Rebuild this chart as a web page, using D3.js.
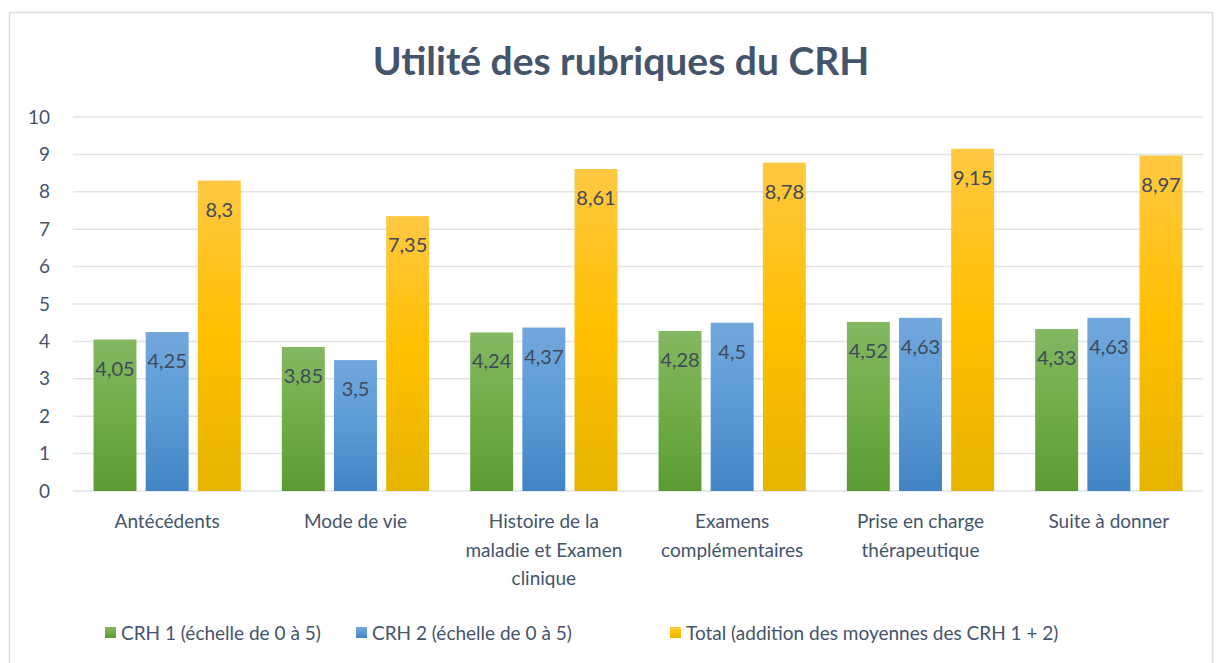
<!DOCTYPE html>
<html>
<head>
<meta charset="utf-8">
<script src="https://cdn.jsdelivr.net/npm/d3@7"></script>
<style>
  body { margin: 0; background: #fff; }
  text { font-family: Lato, "Open Sans", sans-serif; }
</style>
</head>
<body>
<div id="chart"></div>
<script>
const categories = ["Antécédents", "Mode de vie", "Histoire de la maladie et Examen clinique",
  "Examens complémentaires", "Prise en charge thérapeutique", "Suite à donner"]
const categoryLines = [["Antécédents"], ["Mode de vie"], ["Histoire de la", "maladie et Examen", "clinique"],
  ["Examens", "complémentaires"], ["Prise en charge", "thérapeutique"], ["Suite à donner"]]
const crh1 = [4.05, 3.85, 4.24, 4.28, 4.52, 4.33]
const crh2 = [4.25, 3.5, 4.37, 4.5, 4.63, 4.63]
const total = [8.3, 7.35, 8.61, 8.78, 9.15, 8.97]
const seriesNames = ["CRH 1 (échelle de 0 à 5)", "CRH 2 (échelle de 0 à 5)", "Total (addition des moyennes des CRH 1 + 2)"]
const yTicks = [0, 1, 2, 3, 4, 5, 6, 7, 8, 9, 10]

const W = 1220, H = 663
const plot = { left: 73, right: 1203, top: 117, bottom: 491 }
const textColor = "#44546a"

const series = [
  { name: seriesNames[0], values: crh1, grad: ["#84b762", "#70ad47", "#5c9a33"] },
  { name: seriesNames[1], values: crh2, grad: ["#72a7dd", "#5b9bd5", "#4283c4"] },
  { name: seriesNames[2], values: total, grad: ["#ffc842", "#ffc000", "#e6b400"] }
]

const svg = d3.select("#chart").append("svg")
  .attr("width", W).attr("height", H)

const defs = svg.append("defs")
series.forEach(function (s, i) {
  const g = defs.append("linearGradient")
    .attr("id", "grad" + i)
    .attr("x1", 0).attr("y1", 0).attr("x2", 0).attr("y2", 1)
  g.append("stop").attr("offset", "0%").attr("stop-color", s.grad[0])
  g.append("stop").attr("offset", "50%").attr("stop-color", s.grad[1])
  g.append("stop").attr("offset", "100%").attr("stop-color", s.grad[2])
})

// outer border
svg.append("rect")
  .attr("x", 9.5).attr("y", 12.5)
  .attr("width", 1203).attr("height", 660)
  .attr("fill", "#fff").attr("stroke", "#d9dde3").attr("stroke-width", 1.5)

// title
svg.append("text")
  .attr("x", 621).attr("y", 75)
  .attr("text-anchor", "middle")
  .style("font-size", "39px").style("font-weight", "bold")
  .style("fill", textColor)
  .text("Utilité des rubriques du CRH")

const y = d3.scaleLinear().domain([0, 10]).range([plot.bottom, plot.top])
const x = d3.scaleBand().domain(categories).range([plot.left, plot.right])
const bw = x.bandwidth() * 0.228
const step = x.bandwidth() * 0.277
const xs = d3.scaleBand().domain([0, 1, 2])
  .range([x.bandwidth() / 2 - step * 1.5, x.bandwidth() / 2 + step * 1.5])

// gridlines
svg.append("g").selectAll("line")
  .data(yTicks)
  .join("line")
  .attr("x1", plot.left).attr("x2", plot.right)
  .attr("y1", d => y(d)).attr("y2", d => y(d))
  .attr("stroke", "#dfe3e8").attr("stroke-width", 1.5)

// y tick labels
svg.append("g").selectAll("text")
  .data(yTicks)
  .join("text")
  .attr("x", 50).attr("y", d => y(d))
  .attr("dy", "0.35em")
  .attr("text-anchor", "end")
  .style("font-size", "19px").style("fill", textColor)
  .text(d => d)

// bars
const groups = svg.append("g").selectAll("g")
  .data(series)
  .join("g")

groups.selectAll("rect")
  .data((s, si) => s.values.map((v, ci) => ({ v: v, ci: ci, si: si })))
  .join("rect")
  .attr("x", d => x(categories[d.ci]) + xs(d.si) + (xs.bandwidth() - bw) / 2)
  .attr("y", d => y(d.v))
  .attr("width", bw)
  .attr("height", d => y(0) - y(d.v))
  .attr("fill", d => "url(#grad" + d.si + ")")

// data labels (inside end)
groups.selectAll("text")
  .data((s, si) => s.values.map((v, ci) => ({ v: v, ci: ci, si: si })))
  .join("text")
  .attr("x", d => x(categories[d.ci]) + xs(d.si) + xs.bandwidth() / 2)
  .attr("y", d => y(d.v) + 29)
  .attr("dy", "0.35em")
  .attr("text-anchor", "middle")
  .style("font-size", "20px").style("fill", "#404a5a")
  .text(d => String(d.v).replace(".", ","))

// x labels
const xl = svg.append("g").selectAll("text")
  .data(categories)
  .join("text")
  .attr("text-anchor", "middle")
  .style("font-size", "19px").style("fill", textColor)
  .attr("transform", d => `translate(${x(d) + x.bandwidth() / 2}, 528)`)

xl.selectAll("tspan")
  .data((d, i) => categoryLines[i])
  .join("tspan")
  .attr("x", 0)
  .attr("y", (d, i) => i * 28.5)
  .text(d => d)

// legend
const legendX = [105, 356, 670]
const legend = svg.append("g").selectAll("g")
  .data(series)
  .join("g")
  .attr("transform", (d, i) => `translate(${legendX[i]}, 633)`)

legend.append("rect")
  .attr("x", 0).attr("y", -6)
  .attr("width", 11).attr("height", 11)
  .attr("fill", (d, i) => "url(#grad" + i + ")")

legend.append("text")
  .attr("x", 16).attr("y", 0)
  .attr("dy", "0.35em")
  .style("font-size", "19px").style("fill", textColor)
  .text(d => d.name)
</script>
</body>
</html>
